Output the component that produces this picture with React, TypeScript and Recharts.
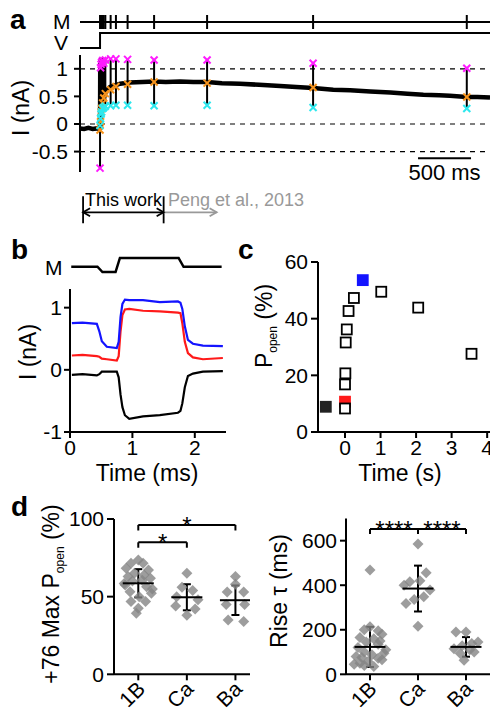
import React from "react";
import {
  ComposedChart,
  Line,
  Scatter,
  XAxis,
  YAxis,
  ReferenceLine,
  ErrorBar,
} from "recharts";

const FONT = '"Liberation Sans", Arial, Helvetica, sans-serif';

// ---------- panel a (time in ms, current in nA) ----------
const traceT = [-189, -150, -110, -70, -30, -5, 0, 2, 4, 6, 8, 10, 12, 14, 17, 20, 23, 26, 29, 32, 40, 50, 66, 94, 142, 190, 280, 400, 510, 620, 755, 880, 1010, 1150, 1320, 1500, 1700, 1850, 2010, 2200, 2360, 2550, 2740, 2900, 3050, 3200, 3300, 3460, 3560, 3679];
const traceI = [-0.08, -0.09, -0.07, -0.09, -0.08, -0.09, -0.11, 1.1, -0.05, 1.18, 0.1, 1.15, 0.15, 1.2, 0.2, 1.12, 0.3, 1.0, 0.38, 0.45, 0.5, 0.56, 0.62, 0.67, 0.7, 0.73, 0.75, 0.76, 0.77, 0.76, 0.77, 0.76, 0.76, 0.74, 0.73, 0.71, 0.69, 0.67, 0.65, 0.62, 0.61, 0.59, 0.57, 0.55, 0.53, 0.52, 0.51, 0.49, 0.49, 0.48];

const markT = [0, 5, 10, 15, 25, 35, 50, 100, 150, 260, 510, 1010, 2010, 3460];
const magentaI = [-0.8, 1.02, 1.08, 1.12, 1.15, 1.1, 1.16, 1.18, 1.18, 1.17, 1.16, 1.16, 1.1, 1.01];
const orangeI = [-0.11, 0.04, 0.22, 0.28, 0.38, 0.47, 0.55, 0.62, 0.68, 0.72, 0.76, 0.74, 0.66, 0.49];
const cyanI = [-0.03, 0.1, 0.18, 0.22, 0.28, 0.3, 0.32, 0.33, 0.34, 0.34, 0.33, 0.34, 0.3, 0.28];

const stepT = [-189, 0, 3679];
const stepMv = [-80, 76, 76];

const aTicks = [-0.5, 0, 0.5, 1];
const aDashed = [1, 0, -0.5];
const aDomainT = [-189, 3679];
const scaleBarT = [3000, 3500];
const scaleBarI = -0.62;
const thisWorkT = [-160, 600];
const pengEndT = 1100;

// ---------- panel b (time in ms, current in nA) ----------
const bTime = [0.03, 0.2, 0.43, 0.47, 0.51, 0.59, 0.75, 0.78, 0.81, 0.84, 0.88, 0.95, 1.17, 1.44, 1.73, 1.77, 1.8, 1.84, 1.89, 1.97, 2.13, 2.45];
const bBlue = [0.75, 0.76, 0.74, 0.62, 0.46, 0.37, 0.35, 0.45, 0.85, 1.06, 1.13, 1.12, 1.12, 1.09, 1.1, 1.08, 0.98, 0.7, 0.48, 0.42, 0.39, 0.38];
const bRed = [0.23, 0.24, 0.22, 0.21, 0.18, 0.17, 0.15, 0.22, 0.62, 0.88, 0.97, 0.98, 0.95, 0.94, 0.92, 0.91, 0.75, 0.45, 0.27, 0.2, 0.17, 0.19];
const bBlack = [-0.08, -0.07, -0.09, -0.07, -0.03, -0.03, -0.03, -0.12, -0.4, -0.6, -0.73, -0.79, -0.75, -0.73, -0.69, -0.66, -0.54, -0.28, -0.1, -0.06, -0.03, -0.02];
const bMTime = [0.02, 0.44, 0.52, 0.73, 0.8, 1.74, 1.82, 2.43];
const bMLevel = [0, 0, -0.6, -0.6, 1, 1, 0, 0];
const bXTicks = [0, 1, 2];
const bYTicks = [-1, 0, 1];

// ---------- panel c (time in s, Popen in %) ----------
const cOpenT = [0, 0, 0.01, 0.02, 0.05, 0.1, 0.25, 1.02, 2.06, 3.56];
const cOpenP = [8.3, 16.8, 20.7, 31.6, 36.2, 42.7, 47.3, 49.5, 43.9, 27.6];
const cBlackT = [-0.54];
const cBlackP = [8.9];
const cRedT = [0];
const cRedP = [10.7];
const cBlueT = [0.5];
const cBlueP = [53.6];
const cXTicks = [0, 1, 2, 3, 4];
const cYTicks = [0, 20, 40, 60];

// ---------- panel d ----------
const groups = ["1B", "Ca", "Ba"];
const groupTicks = [0.5, 1.5, 2.5];

const maxP1B = [73.6, 71.5, 71.5, 68.3, 67.2, 65.1, 64, 62.9, 61.9, 60.5, 60, 58.5, 57.5, 56.4, 55, 53.2, 52.2, 50, 46.8, 46.8, 42.5, 39.3];
const maxPCa = [65, 56, 54, 50, 48, 44, 42, 38];
const maxPBa = [63, 58, 53, 53, 45, 45, 35, 34];
const maxPJit1B = [0, -0.15, 0.1, -0.25, 0.21, -0.08, 0.12, -0.21, 0.25, 0.08, -0.12, -0.29, -0.27, 0.17, 0.29, -0.17, 0.27, 0.02, -0.15, 0.15, 0, -0.04];
const maxPJitCa = [0, -0.1, 0.12, -0.21, 0.23, -0.23, 0.17, 0];
const maxPJitBa = [0, 0, -0.17, 0.17, -0.19, 0.19, -0.15, 0.17];
const maxPMean = [58.6, 49.6, 47.7];
const maxPSd = [9.1, 8.4, 9.5];

const rise1B = [468, 213, 200, 195, 180, 165, 160, 150, 145, 135, 120, 110, 100, 95, 88, 80, 75, 72, 65, 58, 50, 45, 40, 35];
const riseCa = [585, 456, 420, 415, 400, 378, 348, 336, 318, 216];
const riseBa = [190, 190, 145, 138, 128, 115, 110, 100, 93, 63];
const riseJit1B = [0, 0, -0.12, 0.17, 0.25, -0.21, 0.08, 0.21, -0.08, 0.17, -0.25, 0.33, -0.12, 0.29, 0.04, -0.29, -0.17, 0.17, 0.25, -0.04, -0.21, -0.33, -0.12, 0.08];
const riseJitCa = [0, 0.17, 0.04, -0.17, -0.29, 0.25, 0.12, -0.08, -0.25, 0];
const riseJitBa = [-0.21, 0, 0.25, 0.12, -0.08, -0.25, 0.08, 0.17, -0.12, -0.04];
const riseMean = [123, 385, 123];
const riseSd = [90, 103, 44];

const maxPBrackets = [
  { from: 0, to: 2, y: 96.2, drop: 3.6, text: "*" },
  { from: 0, to: 1, y: 85, drop: 3.5, text: "*" },
];
const riseBrackets = [
  { from: 0, to: 1, y: 652, drop: 22, text: "****" },
  { from: 1, to: 2, y: 652, drop: 22, text: "****" },
];

// ---------- helpers ----------
const xy = (xs: number[], ys: number[]) => xs.map((x, i) => ({ x, y: ys[i] }));
const swarm = (g: number, vals: number[], jit: number[]) =>
  vals.map((v, i) => ({ x: g + 0.5 + jit[i], y: v }));

const axisStyle = { stroke: "#000", strokeWidth: 2 };
const tickStyle = { fill: "#000", fontSize: 21, fontFamily: FONT };

const xShape = (color: string) => (p: any) => {
  const { cx, cy } = p;
  const r = 3.5;
  return (
    <g stroke={color} strokeWidth={2}>
      <line x1={cx - r} y1={cy - r} x2={cx + r} y2={cy + r} />
      <line x1={cx - r} y1={cy + r} x2={cx + r} y2={cy - r} />
    </g>
  );
};

const vTick = (p: any) => (
  <line x1={p.cx} x2={p.cx} y1={p.cy - 7} y2={p.cy + 7} stroke="#000" strokeWidth={2} />
);

const square = (fill: string, stroke: string) => (p: any) => (
  <rect x={p.cx - 5} y={p.cy - 5} width={10} height={10} fill={fill} stroke={stroke} strokeWidth={1.8} />
);

const diamond = (p: any) => {
  const { cx, cy } = p;
  const r = 5.5;
  return (
    <polygon
      points={`${cx},${cy - r} ${cx + r},${cy} ${cx},${cy + r} ${cx - r},${cy}`}
      fill="#858585"
      fillOpacity={0.8}
    />
  );
};

const meanLine = (p: any) => (
  <line x1={p.cx - 15.5} x2={p.cx + 15.5} y1={p.cy} y2={p.cy} stroke="#000" strokeWidth={2} />
);

const starText = (p: any) => (
  <text x={p.cx} y={p.cy + 9} textAnchor="middle" fontSize={24} fontFamily={FONT} fill="#000">
    {p.payload.text}
  </text>
);

const arrowShape = (color: string, both: boolean) => (p: any) => {
  const { x1, y1, x2, y2 } = p;
  const h = 7;
  const w = 4;
  return (
    <g stroke={color} fill="none" strokeWidth={1.8}>
      <line x1={x1} y1={y1} x2={x2} y2={y2} />
      <polyline points={`${x2 - h},${y2 - w} ${x2},${y2} ${x2 - h},${y2 + w}`} />
      {both && <polyline points={`${x1 + h},${y1 - w} ${x1},${y1} ${x1 + h},${y1 + w}`} />}
    </g>
  );
};

// slanted category label, baseline ending just below-right of the tick
const CatTick = (props: any) => {
  const { x, y, payload } = props;
  return (
    <g transform={`translate(${x + 8}, ${y + 8}) rotate(-45)`}>
      <text x={0} y={0} textAnchor="end" fill="#000" fontSize={21} fontFamily={FONT}>
        {groups[Math.floor(payload.value)]}
      </text>
    </g>
  );
};

const Box = ({ x, y, children }: any) => (
  <div style={{ position: "absolute", left: x, top: y }}>{children}</div>
);

// text placed by baseline
const Txt = ({ x, y, size = 21, bold = false, color = "#000", children }: any) => (
  <div
    style={{
      position: "absolute",
      left: x,
      top: y - 0.8465 * size,
      fontSize: size,
      lineHeight: 1,
      fontWeight: bold ? 700 : 400,
      color,
      whiteSpace: "nowrap",
    }}
  >
    {children}
  </div>
);

const CTxt = ({ cx, cy, size = 23, rotate = 0, children }: any) => (
  <div
    style={{
      position: "absolute",
      left: cx,
      top: cy,
      fontSize: size,
      lineHeight: 1,
      whiteSpace: "nowrap",
      transform: `translate(-50%, -50%) rotate(${rotate}deg)`,
    }}
  >
    {children}
  </div>
);

const Sub = ({ children }: any) => (
  <span style={{ fontSize: 12, verticalAlign: "-5px" }}>{children}</span>
);

export default function App() {
  const trace = xy(traceT, traceI);
  const marks = markT.map((t, i) => {
    const lo = Math.min(magentaI[i], orangeI[i], cyanI[i]);
    const hi = Math.max(magentaI[i], orangeI[i], cyanI[i]);
    return { x: t, y: orangeI[i], err: [orangeI[i] - lo, hi - orangeI[i]] };
  });
  const mTicks = markT.map((t) => ({ x: t, y: 0 }));
  const maxPMeans = groups.map((_, i) => ({ x: i + 0.5, y: maxPMean[i], sd: maxPSd[i] }));
  const riseMeans = groups.map((_, i) => ({ x: i + 0.5, y: riseMean[i], sd: riseSd[i] }));

  const brackets = (list: any[]) =>
    list.map((b, i) => {
      const a = b.from + 0.5;
      const c = b.to + 0.5;
      return (
        <React.Fragment key={i}>
          <ReferenceLine segment={[{ x: a, y: b.y }, { x: c, y: b.y }]} stroke="#000" strokeWidth={2} />
          <ReferenceLine segment={[{ x: a, y: b.y }, { x: a, y: b.y - b.drop }]} stroke="#000" strokeWidth={2} />
          <ReferenceLine segment={[{ x: c, y: b.y }, { x: c, y: b.y - b.drop }]} stroke="#000" strokeWidth={2} />
        </React.Fragment>
      );
    });
  const bracketLabels = (list: any[]) =>
    list.map((b) => ({ x: (b.from + b.to) / 2 + 0.5, y: b.y, text: b.text }));

  return (
    <div style={{ position: "relative", width: 490, height: 712, overflow: "hidden", background: "#fff", fontFamily: FONT, color: "#000" }}>
      <style>{"body{margin:0}"}</style>

      {/* ---- a: mechanical stimulus markers ---- */}
      <Box x={0} y={11}>
        <ComposedChart width={490} height={22} margin={{ top: 2, right: 0, bottom: 2, left: 80 }}>
          <XAxis type="number" dataKey="x" domain={aDomainT} hide />
          <YAxis type="number" dataKey="y" domain={[-1, 1]} hide />
          <ReferenceLine y={0} stroke="#000" strokeWidth={2} />
          <Scatter data={mTicks} shape={vTick} isAnimationActive={false} />
        </ComposedChart>
      </Box>

      {/* ---- a: voltage step ---- */}
      <Box x={0} y={31}>
        <ComposedChart width={490} height={19} margin={{ top: 2, right: 0, bottom: 2, left: 80 }}>
          <XAxis type="number" dataKey="x" domain={aDomainT} hide />
          <YAxis type="number" dataKey="y" domain={[-80, 76]} hide />
          <Line data={xy(stepT, stepMv)} dataKey="y" type="stepAfter" stroke="#000" strokeWidth={2} dot={false} isAnimationActive={false} />
        </ComposedChart>
      </Box>

      {/* ---- a: current ---- */}
      <Box x={0} y={0}>
        <ComposedChart width={490} height={240} margin={{ top: 55, right: 0, bottom: 68, left: 0 }}>
          <XAxis type="number" dataKey="x" domain={aDomainT} hide />
          <YAxis
            type="number"
            dataKey="y"
            domain={[-0.87, 1.25]}
            ticks={aTicks}
            interval={0}
            width={80}
            axisLine={axisStyle}
            tickLine={axisStyle}
            tickSize={6}
            tickMargin={6}
            tick={tickStyle}
          />
          {aDashed.map((v) => (
            <ReferenceLine key={v} y={v} stroke="#000" strokeWidth={1.2} strokeDasharray="5 5" />
          ))}
          <Line data={trace} dataKey="y" stroke="#000" strokeWidth={4.5} dot={false} isAnimationActive={false} />
          <Scatter data={marks} shape={xShape("#f7941d")} isAnimationActive={false}>
            <ErrorBar dataKey="err" direction="y" width={0} stroke="#000" strokeWidth={2} isAnimationActive={false} />
          </Scatter>
          <Scatter data={xy(markT, magentaI)} shape={xShape("#ff1aff")} isAnimationActive={false} />
          <Scatter data={xy(markT, cyanI)} shape={xShape("#2ee8ee")} isAnimationActive={false} />
          <ReferenceLine
            segment={[{ x: scaleBarT[0], y: scaleBarI }, { x: scaleBarT[1], y: scaleBarI }]}
            stroke="#000"
            strokeWidth={2}
            label={{ value: "500 ms", position: "bottom", offset: 6, fill: "#000", fontSize: 22, fontFamily: FONT }}
          />
          <ReferenceLine ifOverflow="visible" segment={[{ x: thisWorkT[0], y: -1.31 }, { x: thisWorkT[0], y: -1.8 }]} stroke="#000" strokeWidth={1.8} />
          <ReferenceLine ifOverflow="visible" segment={[{ x: thisWorkT[1], y: -1.31 }, { x: thisWorkT[1], y: -1.8 }]} stroke="#000" strokeWidth={1.8} />
          <ReferenceLine ifOverflow="visible" segment={[{ x: thisWorkT[1], y: -1.6 }, { x: pengEndT, y: -1.6 }]} shape={arrowShape("#999", false)} />
          <ReferenceLine ifOverflow="visible" segment={[{ x: thisWorkT[0], y: -1.6 }, { x: thisWorkT[1], y: -1.6 }]} shape={arrowShape("#000", true)} />
        </ComposedChart>
      </Box>

      <Txt x={10} y={30} size={28} bold>a</Txt>
      <Txt x={53} y={29} size={21}>M</Txt>
      <Txt x={54} y={50} size={21}>V</Txt>
      <CTxt cx={21} cy={108} rotate={-90}>I (nA)</CTxt>
      <Txt x={85} y={206} size={18}>This work</Txt>
      <Txt x={168} y={206} size={18} color="#999">Peng et al., 2013</Txt>

      {/* ---- b: stimulus ---- */}
      <Box x={0} y={252}>
        <ComposedChart width={240} height={26} margin={{ top: 6, right: 14, bottom: 6, left: 70 }}>
          <XAxis type="number" dataKey="x" domain={[0, 2.5]} hide />
          <YAxis type="number" dataKey="y" domain={[-0.6, 1]} hide />
          <Line data={xy(bMTime, bMLevel)} dataKey="y" stroke="#000" strokeWidth={2.5} dot={false} isAnimationActive={false} />
        </ComposedChart>
      </Box>

      {/* ---- b: currents ---- */}
      <Box x={0} y={279}>
        <ComposedChart width={240} height={193} margin={{ top: 10, right: 14, bottom: 10, left: 0 }}>
          <XAxis
            type="number"
            dataKey="x"
            domain={[0, 2.5]}
            ticks={bXTicks}
            interval={0}
            height={30}
            axisLine={axisStyle}
            tickLine={axisStyle}
            tickSize={6}
            tickMargin={2}
            tick={tickStyle}
          />
          <YAxis
            type="number"
            dataKey="y"
            domain={[-1, 1.3]}
            ticks={bYTicks}
            interval={0}
            width={70}
            axisLine={axisStyle}
            tickLine={axisStyle}
            tickSize={6}
            tickMargin={2}
            tick={tickStyle}
          />
          <Line data={xy(bTime, bBlack)} dataKey="y" stroke="#000" strokeWidth={2.2} dot={false} isAnimationActive={false} />
          <Line data={xy(bTime, bRed)} dataKey="y" stroke="#ff1a1a" strokeWidth={2.2} dot={false} isAnimationActive={false} />
          <Line data={xy(bTime, bBlue)} dataKey="y" stroke="#1414ff" strokeWidth={2.2} dot={false} isAnimationActive={false} />
        </ComposedChart>
      </Box>

      <Txt x={11} y={260} size={28} bold>b</Txt>
      <Txt x={45} y={275} size={21}>M</Txt>
      <CTxt cx={28} cy={352} rotate={-90}>I (nA)</CTxt>
      <CTxt cx={147} cy={473}>Time (ms)</CTxt>

      {/* ---- c: Popen vs time ---- */}
      <Box x={240} y={250}>
        <ComposedChart width={250} height={230} margin={{ top: 12, right: 0, bottom: 18, left: 0 }}>
          <XAxis
            type="number"
            dataKey="x"
            domain={[-0.76, 4.08]}
            ticks={cXTicks}
            interval={0}
            height={30}
            axisLine={axisStyle}
            tickLine={axisStyle}
            tickSize={6}
            tickMargin={2}
            tick={tickStyle}
          />
          <YAxis
            type="number"
            dataKey="y"
            domain={[0, 60]}
            ticks={cYTicks}
            interval={0}
            width={78}
            axisLine={axisStyle}
            tickLine={axisStyle}
            tickSize={7}
            tickMargin={3}
            tick={tickStyle}
          />
          <Scatter data={xy(cBlackT, cBlackP)} shape={square("#222", "#222")} isAnimationActive={false} />
          <Scatter data={xy(cRedT, cRedP)} shape={square("#ff1a1a", "#ff1a1a")} isAnimationActive={false} />
          <Scatter data={xy(cOpenT, cOpenP)} shape={square("#fff", "#000")} isAnimationActive={false} />
          <Scatter data={xy(cBlueT, cBlueP)} shape={square("#1414ff", "#1414ff")} isAnimationActive={false} />
        </ComposedChart>
      </Box>

      <Txt x={238} y={260} size={28} bold>c</Txt>
      <CTxt cx={266} cy={326} rotate={-90}>
        P<Sub>open</Sub> (%)
      </CTxt>
      <CTxt cx={400} cy={473}>Time (s)</CTxt>

      {/* ---- d: max Popen ---- */}
      <Box x={0} y={505}>
        <ComposedChart width={250} height={207} margin={{ top: 14, right: 0, bottom: 0, left: 0 }}>
          <XAxis
            type="number"
            dataKey="x"
            domain={[0, 2.8]}
            ticks={groupTicks}
            interval={0}
            height={37.7}
            axisLine={axisStyle}
            tickLine={axisStyle}
            tickSize={6}
            tickMargin={2}
            tick={CatTick}
          />
          <YAxis
            type="number"
            dataKey="y"
            domain={[0, 100]}
            ticks={[0, 50, 100]}
            interval={0}
            width={114}
            axisLine={axisStyle}
            tickLine={axisStyle}
            tickSize={7}
            tickMargin={3}
            tick={tickStyle}
          />
          {brackets(maxPBrackets)}
          <Scatter data={bracketLabels(maxPBrackets)} shape={starText} isAnimationActive={false} />
          <Scatter data={swarm(0, maxP1B, maxPJit1B)} shape={diamond} isAnimationActive={false} />
          <Scatter data={swarm(1, maxPCa, maxPJitCa)} shape={diamond} isAnimationActive={false} />
          <Scatter data={swarm(2, maxPBa, maxPJitBa)} shape={diamond} isAnimationActive={false} />
          <Scatter data={maxPMeans} shape={meanLine} isAnimationActive={false}>
            <ErrorBar dataKey="sd" direction="y" width={4} stroke="#000" strokeWidth={2} isAnimationActive={false} />
          </Scatter>
        </ComposedChart>
      </Box>

      {/* ---- d: rise tau ---- */}
      <Box x={250} y={505}>
        <ComposedChart width={240} height={207} margin={{ top: 13.4, right: 0, bottom: 0, left: 0 }}>
          <XAxis
            type="number"
            dataKey="x"
            domain={[0, 3]}
            ticks={groupTicks}
            interval={0}
            height={37.7}
            axisLine={axisStyle}
            tickLine={axisStyle}
            tickSize={6}
            tickMargin={2}
            tick={CatTick}
          />
          <YAxis
            type="number"
            dataKey="y"
            domain={[0, 700]}
            ticks={[0, 200, 400, 600]}
            interval={0}
            width={96}
            axisLine={axisStyle}
            tickLine={axisStyle}
            tickSize={6}
            tickMargin={3}
            tick={tickStyle}
          />
          {brackets(riseBrackets)}
          <Scatter data={bracketLabels(riseBrackets)} shape={starText} isAnimationActive={false} />
          <Scatter data={swarm(0, rise1B, riseJit1B)} shape={diamond} isAnimationActive={false} />
          <Scatter data={swarm(1, riseCa, riseJitCa)} shape={diamond} isAnimationActive={false} />
          <Scatter data={swarm(2, riseBa, riseJitBa)} shape={diamond} isAnimationActive={false} />
          <Scatter data={riseMeans} shape={meanLine} isAnimationActive={false}>
            <ErrorBar dataKey="sd" direction="y" width={4} stroke="#000" strokeWidth={2} isAnimationActive={false} />
          </Scatter>
        </ComposedChart>
      </Box>

      <Txt x={11} y={517} size={28} bold>d</Txt>
      <CTxt cx={53} cy={594} rotate={-90}>
        +76 Max P<Sub>open</Sub> (%)
      </CTxt>
      <CTxt cx={279} cy={591} rotate={-90}>Rise τ (ms)</CTxt>
    </div>
  );
}
